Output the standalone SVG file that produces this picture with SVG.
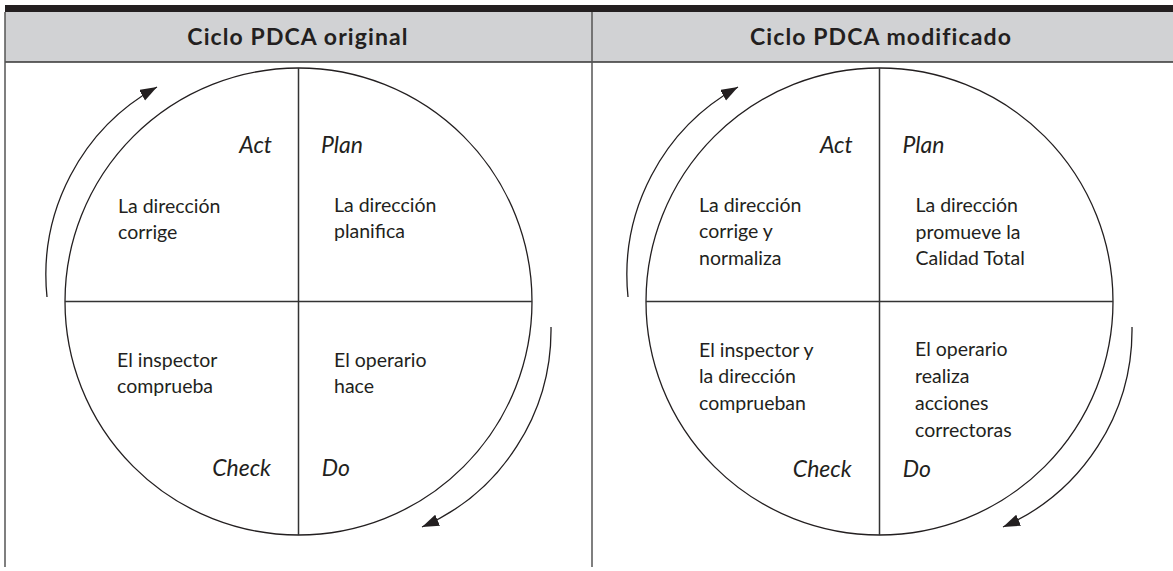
<svg xmlns="http://www.w3.org/2000/svg" width="1173" height="571" viewBox="0 0 1173 571">
<style>
.frame{stroke:#555;stroke-width:1.5;fill:none}
.circ{stroke:#231f20;stroke-width:1.3;fill:none}
.axis{stroke:#333;stroke-width:1.5}
.arc{stroke:#231f20;stroke-width:1.3;fill:none;marker-end:url(#ah)}
.hd{font-family:Lato,"Liberation Sans",sans-serif;font-weight:bold;font-size:23px;letter-spacing:1.1px;fill:#231f20;text-anchor:middle}
.lb{font-family:Lato,"Liberation Sans",sans-serif;font-style:italic;font-size:23px;fill:#231f20}
.tx{font-family:Lato,"Liberation Sans",sans-serif;font-size:19.5px;fill:#231f20}
.end{text-anchor:end}
</style>
<defs>
<marker id="ah" markerUnits="userSpaceOnUse" markerWidth="19" markerHeight="13" refX="17" refY="6" orient="auto">
<path d="M0,0 L17,6 L0,12 z" fill="#231f20"/>
</marker>
</defs>
<rect width="1173" height="571" fill="#fff"/>
<g id="header">
<rect x="5" y="5" width="1168" height="7" fill="#231f20"/>
<rect x="5" y="12" width="1168" height="50" fill="#d1d2d4"/>
<line x1="5" y1="62" x2="1173" y2="62" stroke="#333" stroke-width="1.5"/>
<line class="frame" x1="5" y1="12" x2="5" y2="567"/>
<line class="frame" x1="592" y1="12" x2="592" y2="567"/>
<text class="hd" x="298" y="45">Ciclo PDCA original</text>
<text class="hd" x="881" y="45">Ciclo PDCA modificado</text>
</g>
<g id="cycle-original">
<circle class="circ" cx="298.5" cy="301.5" r="233.5"/>
<line class="axis" x1="298.5" y1="68" x2="298.5" y2="535"/>
<line class="axis" x1="65" y1="301.5" x2="532" y2="301.5"/>
</g>
<g id="orig-act"><text class="lb end" x="272" y="152.7">Act</text><text class="tx" x="118" y="212.5">La dirección<tspan x="118" dy="26">corrige</tspan></text></g>
<g id="orig-plan"><text class="lb" x="321" y="152.7">Plan</text><text class="tx" x="334" y="212.3">La dirección<tspan x="334" dy="26">planifica</tspan></text></g>
<g id="orig-check"><text class="lb end" x="271" y="476">Check</text><text class="tx" x="117" y="366.7">El inspector<tspan x="117" dy="26.5">comprueba</tspan></text></g>
<g id="orig-do"><text class="lb" x="321.7" y="475.7">Do</text><text class="tx" x="334" y="366.7">El operario<tspan x="334" dy="26.5">hace</tspan></text></g>
<g id="cycle-modified">
<circle class="circ" cx="879.5" cy="301.5" r="233.5"/>
<line class="axis" x1="879.5" y1="68" x2="879.5" y2="535"/>
<line class="axis" x1="646" y1="301.5" x2="1113" y2="301.5"/>
</g>
<g id="mod-act"><text class="lb end" x="852.7" y="152.7">Act</text><text class="tx" x="699" y="211.7">La dirección<tspan x="699" dy="26.4">corrige y</tspan><tspan x="699" dy="26.4">normaliza</tspan></text></g>
<g id="mod-plan"><text class="lb" x="902.5" y="152.7">Plan</text><text class="tx" x="915.5" y="212.3">La dirección<tspan x="915.5" dy="26.4">promueve la</tspan><tspan x="915.5" dy="26.4">Calidad Total</tspan></text></g>
<g id="mod-check"><text class="lb end" x="851.7" y="476.7">Check</text><text class="tx" x="699" y="356.7">El inspector y<tspan x="699" dy="26.6">la dirección</tspan><tspan x="699" dy="26.6">comprueban</tspan></text></g>
<g id="mod-do"><text class="lb" x="902.7" y="476.7">Do</text><text class="tx" x="915" y="355.5">El operario<tspan x="915" dy="27">realiza</tspan><tspan x="915" dy="27">acciones</tspan><tspan x="915" dy="27">correctoras</tspan></text></g>
<g id="connectors">
<path class="arc" d="M47,297 A215,215 0 0 1 157,87"/>
<path class="arc" d="M551,327 A215,215 0 0 1 422,527"/>
<path class="arc" d="M628,297 A215,215 0 0 1 738,87"/>
<path class="arc" d="M1132,327 A215,215 0 0 1 1003,527"/>
</g>
</svg>
